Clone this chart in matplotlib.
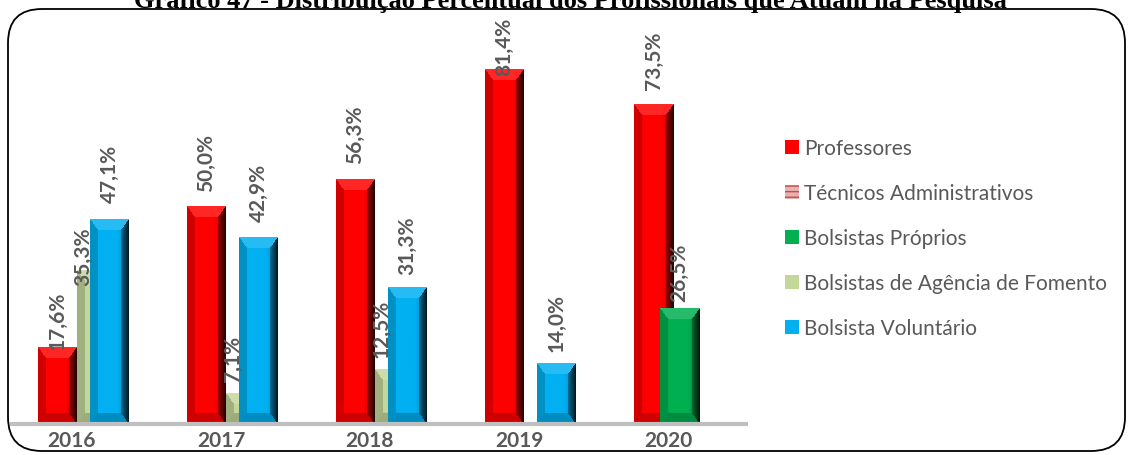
import numpy as np
import matplotlib
matplotlib.use("Agg")
import matplotlib.pyplot as plt
from matplotlib.patches import Patch, FancyBboxPatch
from matplotlib.colors import to_rgb

# ---------------- data ----------------
title = "Gráfico 47 - Distribuição Percentual dos Profissionais que Atuam na Pesquisa"
years = ["2016", "2017", "2018", "2019", "2020"]
series_names = ["Professores", "Técnicos Administrativos", "Bolsistas Próprios",
                "Bolsistas de Agência de Fomento", "Bolsista Voluntário"]
professores = [17.6, 50.0, 56.3, 81.4, 73.5]
tecnicos = [0.0, 0.0, 0.0, 0.0, 0.0]
bolsistas_proprios = [0.0, 0.0, 0.0, 0.0, 26.5]
bolsistas_agencia = [35.3, 7.1, 12.5, 0.0, 0.0]
bolsista_voluntario = [47.1, 42.9, 31.3, 14.0, 0.0]
values = [professores, tecnicos, bolsistas_proprios, bolsistas_agencia, bolsista_voluntario]

# ---------------- style ----------------
colors = ["#FF0000", "#E6A0A0", "#00B050", "#C4D79B", "#00B0F0"]
# label gap above bar top (pixels), as in the reference
label_gap = [[-2, 15, 16, -5, 15],
             [0, 0, 0, 0, 0],
             [8, 8, 8, 8, 8],
             [-15, 12, 13, 0, 0],
             [17, 16, 14, 12, 0]]
label_dx = [0, 0, 0, -13, 0]  # horizontal label shift (pixels)
GRAY = "#595959"

W, H = 1129, 456
fig = plt.figure(figsize=(W / 100, H / 100), dpi=100)

# plot area geometry in pixels
ax_left_px, ax_right_px = 10, 748
base_px = 425
px_per_unit = 4.35
ymax = 90
cat_px = 149.0
first_center_px = 72.0

ax = fig.add_axes([ax_left_px / W, (H - base_px) / H,
                   (ax_right_px - ax_left_px) / W, ymax * px_per_unit / H])
ax.set_xlim((ax_left_px - first_center_px) / cat_px, (ax_right_px - first_center_px) / cat_px)
ax.set_ylim(0, ymax)
ax.axis("off")

bar_w = 39 / cat_px
step = 13 / cat_px
start = -34 / cat_px
x = np.arange(len(years))


def bevel_image(color, wpx, hpx):
    nx = max(int(round(wpx)), 2)
    ny = max(int(round(hpx)), 2)
    c = np.array(to_rgb(color))
    xx, yy = np.meshgrid(np.arange(nx) + 0.5, np.arange(ny) + 0.5)
    dl, dr = xx, nx - xx
    dt, db = yy, ny - yy
    bs = min(8.0, nx / 4.0, ny / 2.0)   # side bevel
    bt = min(11.0, nx / 3.0, ny / 2.0)  # top/bottom bevel
    base = np.ones((ny, nx, 3)) * c
    u = xx / nx
    face = np.interp(u, [0, 0.2, 0.7, 0.82, 1.0], [0.93, 1.0, 1.0, 0.9, 0.8])
    img = base * face[..., None]
    ndl, ndr, ndt, ndb = dl / bs, dr / bs, dt / bt, db / bt
    nmin = np.minimum(np.minimum(ndl, ndr), np.minimum(ndt, ndb))
    edge = nmin < 1
    left = edge & (ndl == nmin)
    right = edge & (ndr == nmin)
    top = edge & (ndt == nmin) & ~left & ~right
    bottom = edge & (ndb == nmin) & ~left & ~right
    img[left] = base[left] * 0.82
    r = np.clip(1 - ndr, 0, 1)
    rshade = (0.62 - 0.5 * r)[..., None]
    img[right] = (base * rshade)[right]
    img[top] = (base * 0.85 + 0.15)[top]
    img[bottom] = base[bottom] * 0.8
    return np.clip(img, 0, 1)


for k, vals in enumerate(values):
    lefts = x + start + k * step
    bars = ax.bar(lefts, vals, width=bar_w, align="edge", color=colors[k],
                  zorder=2 + k, linewidth=0)
    for j, p in enumerate(bars):
        h = p.get_height()
        if h <= 0:
            continue
        x0 = p.get_x()
        img = bevel_image(colors[k], 39, h * px_per_unit)
        ax.imshow(img, extent=[x0, x0 + bar_w, 0, h], aspect="auto",
                  zorder=2 + k + 0.5, interpolation="bilinear")
        ax.annotate(f"{h:.1f}%".replace(".", ","),
                    xy=(x0 + bar_w / 2, h), xytext=(label_dx[k] * 0.72, label_gap[k][j] * 0.72),
                    textcoords="offset points", rotation=90, ha="center", va="bottom",
                    fontsize=15, fontweight="bold", color=GRAY, family="Lato",
                    zorder=20, annotation_clip=False)

ax.set_xlim((ax_left_px - first_center_px) / cat_px, (ax_right_px - first_center_px) / cat_px)
ax.set_ylim(0, ymax)

# x axis line
ax.plot([0, 1], [0, 0], transform=ax.transAxes, color="#BFBFBF", lw=3,
        clip_on=False, zorder=30, solid_capstyle="butt")
for i, yr in enumerate(years):
    ax.text(i, -1.4, yr, ha="center", va="top", fontsize=15, fontweight="bold",
            color=GRAY, family="Lato")

# legend
handles = []
for k, name in enumerate(series_names):
    if k == 1:
        handles.append(Patch(facecolor="#E8B0B0", edgecolor="#C0504D", hatch="---",
                             linewidth=0, label=name))
    else:
        handles.append(Patch(facecolor=colors[k], edgecolor="none", label=name))
leg = fig.legend(handles=handles, loc="upper left",
                 bbox_to_anchor=(777 / W, 1 - 131 / H), frameon=False,
                 prop={"family": "Lato", "size": 15}, labelcolor=GRAY,
                 handlelength=0.65, handleheight=0.65, handletextpad=0.25,
                 labelspacing=1.2, borderaxespad=0)

# border
fig.patches.append(FancyBboxPatch((8 / W, 4 / H), (1125 - 8) / W, (456 - 10 - 4) / H,
                                  boxstyle="round,pad=0,rounding_size=0.03",
                                  transform=fig.transFigure, fill=False,
                                  edgecolor="black", linewidth=1.3,
                                  mutation_aspect=W / H))

fig.text(570 / W, 1 - 8 / H, title, ha="center", va="baseline",
         fontsize=19, fontweight="bold", family="Liberation Serif", color="black")

fig.savefig("out.png", dpi=100)
